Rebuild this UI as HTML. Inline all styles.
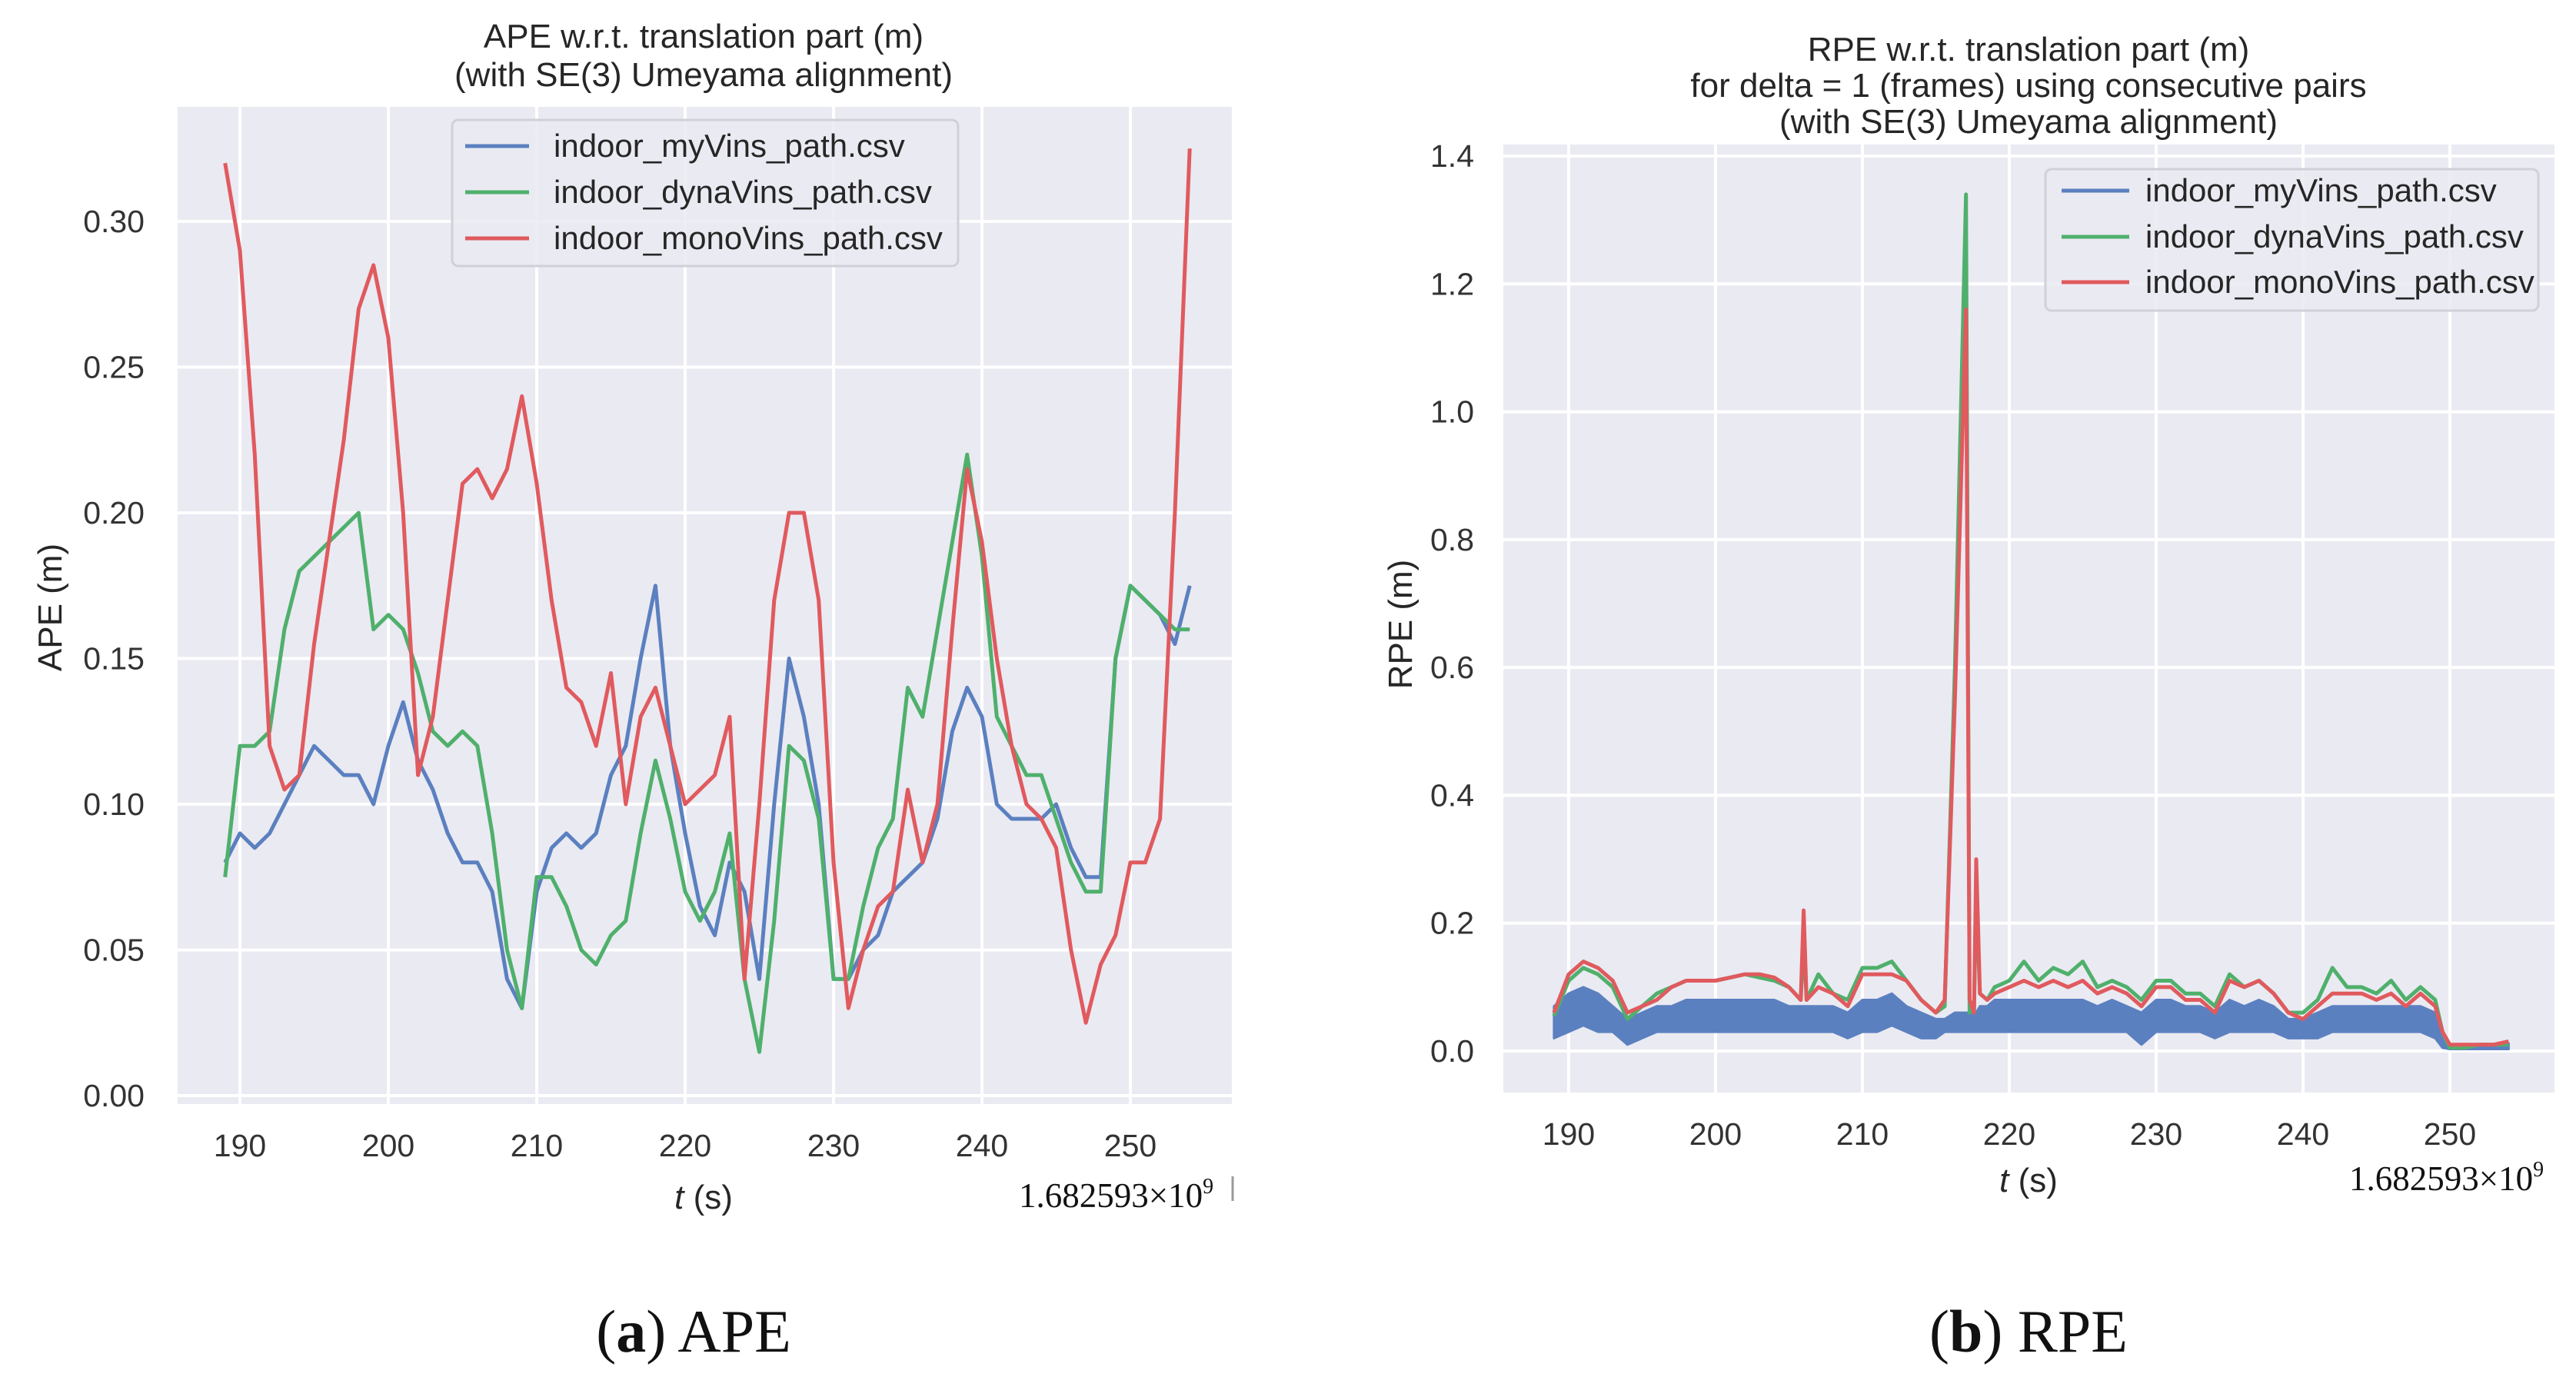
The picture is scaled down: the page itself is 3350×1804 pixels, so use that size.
<!DOCTYPE html>
<html><head><meta charset="utf-8">
<style>
html,body{margin:0;padding:0;background:#fff;}
svg{display:block;}
.tk{font-family:"Liberation Sans",sans-serif;font-size:41px;fill:#333;}
.tt{font-family:"Liberation Sans",sans-serif;font-size:44px;fill:#262626;}
.lg{font-family:"Liberation Sans",sans-serif;font-size:42px;fill:#262626;}
.sf{font-family:"Liberation Serif",serif;fill:#111;}
</style></head>
<body>
<svg id="fig" width="3350" height="1804" viewBox="0 0 3350 1804" xmlns="http://www.w3.org/2000/svg">
  <g id="ape"></g>
  <g id="rpe"></g>
  <text x="902" y="1758" text-anchor="middle" class="sf" font-size="78">(<tspan font-weight="bold">a</tspan>) APE</text>
  <text x="2638" y="1758" text-anchor="middle" class="sf" font-size="78">(<tspan font-weight="bold">b</tspan>) RPE</text>
</svg>
<script>
// ---------- APE data ----------
const apeT = [189,190,191,192,193,194,195,196,197,198,199,200,201,202,203,204,205,206,207,208,209,210,211,212,213,214,215,216,217,218,219,220,221,222,223,224,225,226,227,228,229,230,231,232,233,234,235,236,237,238,239,240,241,242,243,244,245,246,247,248,249,250,251,252,253,254];
const apeMy = [.08,.09,.085,.09,.10,.11,.12,.115,.11,.11,.10,.12,.135,.115,.105,.09,.08,.08,.07,.04,.03,.07,.085,.09,.085,.09,.11,.12,.15,.175,.12,.09,.065,.055,.08,.07,.04,.10,.15,.13,.10,.04,.04,.05,.055,.07,.075,.08,.095,.125,.14,.13,.10,.095,.095,.095,.10,.085,.075,.075,.15,.175,.17,.165,.155,.175];
const apeDyna = [.075,.12,.12,.125,.16,.18,.185,.19,.195,.20,.16,.165,.16,.145,.125,.12,.125,.12,.09,.05,.03,.075,.075,.065,.05,.045,.055,.06,.09,.115,.095,.07,.06,.07,.09,.04,.015,.06,.12,.115,.095,.04,.04,.065,.085,.095,.14,.13,.16,.19,.22,.185,.13,.12,.11,.11,.095,.08,.07,.07,.15,.175,.17,.165,.16,.16];
const apeMono = [.32,.29,.22,.12,.105,.11,.155,.19,.225,.27,.285,.26,.20,.11,.13,.17,.21,.215,.205,.215,.24,.21,.17,.14,.135,.12,.145,.10,.13,.14,.12,.10,.105,.11,.13,.04,.10,.17,.20,.20,.17,.08,.03,.05,.065,.07,.105,.08,.10,.16,.215,.19,.15,.12,.10,.095,.085,.05,.025,.045,.055,.08,.08,.095,.20,.325];
const apeXTicks = [190,200,210,220,230,240,250];
const apeYTicks = [0,0.05,0.10,0.15,0.20,0.25,0.30];
const apeYLabels = ["0.00","0.05","0.10","0.15","0.20","0.25","0.30"];

// ---------- RPE data ----------
const rpeT = [189,190,191,192,193,194,195,196,197,198,199,200,201,202,203,204,205,205.8,206,206.2,207,208,209,210,211,212,213,214,215,215.6,216.3,217.05,217.3,217.6,217.75,218,218.5,219,220,221,222,223,224,225,226,227,228,229,230,231,232,233,234,235,236,237,238,239,240,241,242,243,244,245,246,247,248,249,249.5,250,251,252,253,254];
const rpeMono = [.06,.12,.14,.13,.11,.06,.07,.08,.10,.11,.11,.11,.115,.12,.12,.115,.10,.08,.22,.08,.10,.09,.07,.12,.12,.12,.11,.08,.06,.08,.55,1.16,.08,.06,.30,.09,.08,.09,.10,.11,.10,.11,.10,.11,.09,.10,.09,.07,.10,.10,.08,.08,.06,.11,.10,.11,.09,.06,.05,.07,.09,.09,.09,.08,.09,.07,.09,.07,.03,.01,.01,.01,.01,.015];
const rpeDyna = [.055,.11,.13,.12,.10,.05,.07,.09,.10,.11,.11,.11,.115,.12,.115,.11,.10,.08,.17,.08,.12,.09,.08,.13,.13,.14,.11,.08,.06,.07,.60,1.34,.06,.07,.25,.09,.08,.10,.11,.14,.11,.13,.12,.14,.10,.11,.10,.08,.11,.11,.09,.09,.07,.12,.10,.11,.09,.06,.06,.08,.13,.10,.10,.09,.11,.08,.10,.08,.03,.005,.005,.01,.01,.01];
const rpeMyLow = [.02,.03,.04,.03,.03,.01,.02,.03,.03,.03,.03,.03,.03,.03,.03,.03,.03,.03,.03,.03,.03,.03,.02,.03,.03,.04,.03,.02,.02,.03,.03,.03,.03,.03,.03,.03,.03,.03,.03,.03,.03,.03,.03,.03,.03,.03,.03,.01,.03,.03,.03,.03,.02,.03,.03,.03,.03,.02,.02,.02,.03,.03,.03,.03,.03,.03,.03,.02,.005,.003,.003,.003,.003,.003];
const rpeMyHigh = [.07,.09,.10,.09,.07,.05,.06,.07,.07,.08,.08,.08,.08,.08,.08,.08,.07,.07,.07,.07,.07,.07,.06,.08,.08,.09,.07,.06,.05,.05,.06,.06,.06,.06,.06,.07,.07,.08,.08,.08,.08,.08,.08,.08,.07,.08,.07,.06,.08,.08,.07,.07,.06,.08,.07,.08,.07,.05,.05,.06,.07,.07,.07,.07,.07,.07,.07,.06,.03,.01,.01,.01,.01,.012];
const rpeXTicks = [190,200,210,220,230,240,250];
const rpeYTicks = [0,0.2,0.4,0.6,0.8,1.0,1.2,1.4];
const rpeYLabels = ["0.0","0.2","0.4","0.6","0.8","1.0","1.2","1.4"];

const NS = "http://www.w3.org/2000/svg";
const C_BLUE = "#5b80c0", C_GREEN = "#4fb06c", C_RED = "#e05a5e";
function mk(parent, tag, attrs, text){
  const e = document.createElementNS(NS, tag);
  for (const k in attrs) e.setAttribute(k, attrs[k]);
  if (text !== undefined) e.textContent = text;
  parent.appendChild(e);
  return e;
}
function lin(d0,d1,r0,r1){ return v => r0 + (v-d0)*(r1-r0)/(d1-d0); }
function pathD(xs, ys, sx, sy){
  return xs.map((t,i)=>(i?"L":"M")+sx(t).toFixed(1)+","+sy(ys[i]).toFixed(1)).join("");
}

function drawAxes(g, box, sx, sy, xt, yt, yl, yoff){
  const bg = mk(g,"rect",{x:box.x0,y:box.y0,width:box.x1-box.x0,height:box.y1-box.y0,fill:"#eaeaf2"});
  
  
  xt.forEach(v=>{
    const l = mk(g,"line",{x1:sx(v),x2:sx(v),y1:box.y0,y2:box.y1,stroke:"#fff","stroke-width":4});
    
    
    const t = mk(g,"text",{x:sx(v),y:box.y1+68,"text-anchor":"middle",class:"tk"},String(v));
    
    
  });
  yt.forEach((v,i)=>{
    const l = mk(g,"line",{x1:box.x0,x2:box.x1,y1:sy(v),y2:sy(v),stroke:"#fff","stroke-width":4});
    
    
    const t = mk(g,"text",{x:box.x0-yoff,y:sy(v)+14,"text-anchor":"end",class:"tk"},yl[i]);
    
    
  });
}
function drawLegend(g, x0,y0,x1,y1, rows, lx0,lx1,tx, names){
  const r = mk(g,"rect",{x:x0,y:y0,width:x1-x0,height:y1-y0,rx:8,fill:"#eaeaf2","fill-opacity":0.85,stroke:"#d0d0d8","stroke-width":3});
  
  
  const cols=[C_BLUE,C_GREEN,C_RED];
  rows.forEach((y,i)=>{
    const l = mk(g,"line",{x1:lx0,x2:lx1,y1:y,y2:y,stroke:cols[i],"stroke-width":5});
    
    
    const t = mk(g,"text",{x:tx,y:y+14,class:"lg"},names[i]);
    
    
  });
}
const NAMES=["indoor_myVins_path.csv","indoor_dynaVins_path.csv","indoor_monoVins_path.csv"];

// ---------- APE chart ----------
(function(){
  const g = document.getElementById("ape");
  const box={x0:231,x1:1602,y0:139,y1:1436};
  const sx = lin(190,250,312,1470), sy = lin(0,0.30,1425,288);
  drawAxes(g,box,sx,sy,apeXTicks,apeYTicks,apeYLabels,43);
  [[apeMy,C_BLUE,'series-myvins'],[apeDyna,C_GREEN,'series-dynavins'],[apeMono,C_RED,'series-monovins']].forEach(s=>{
    const p = mk(g,"path",{d:pathD(apeT,s[0],sx,sy),fill:"none",stroke:s[1],"stroke-width":5,"stroke-linejoin":"round"});
    
    
  });
  drawLegend(g,588,156,1246,346,[190,250,310],605,688,720,NAMES);
  const t1 = mk(g,"text",{x:915,y:62,"text-anchor":"middle",class:"tt"},"APE w.r.t. translation part (m)");
  
  
  const t2 = mk(g,"text",{x:915,y:112,"text-anchor":"middle",class:"tt"},"(with SE(3) Umeyama alignment)");
  
  
  const yl = mk(g,"text",{x:80,y:790,"text-anchor":"middle",class:"tt",transform:"rotate(-90 80 790)"},"APE (m)");
  
  
  const xl = mk(g,"text",{x:915,y:1572,"text-anchor":"middle",class:"tt"});
  xl.innerHTML='<tspan font-style="italic">t</tspan> (s)';
  
  
  const of = mk(g,"text",{x:1325,y:1570,class:"sf","font-size":45});
  of.innerHTML='1.682593×10<tspan dy="-18" font-size="28">9</tspan>';
  
  
  mk(g,"line",{x1:1603,x2:1603,y1:1530,y2:1562,stroke:"#999","stroke-width":3});
})();

// ---------- RPE chart ----------
(function(){
  const g = document.getElementById("rpe");
  const box={x0:1955,x1:3322,y0:188,y1:1421};
  const sx = lin(190,250,2040,3186), sy = lin(0,1.4,1367,203);
  drawAxes(g,box,sx,sy,rpeXTicks,rpeYTicks,rpeYLabels,38);
  let d = pathD(rpeT,rpeMyHigh,sx,sy);
  for(let i=rpeT.length-1;i>=0;i--) d+="L"+sx(rpeT[i]).toFixed(1)+","+sy(rpeMyLow[i]).toFixed(1);
  d+="Z";
  const band = mk(g,"path",{d:d,fill:C_BLUE,stroke:C_BLUE,"stroke-width":3,"stroke-linejoin":"round"});
  
  
  [[rpeDyna,C_GREEN,'series-dynavins'],[rpeMono,C_RED,'series-monovins']].forEach(s=>{
    const p = mk(g,"path",{d:pathD(rpeT,s[0],sx,sy),fill:"none",stroke:s[1],"stroke-width":5,"stroke-linejoin":"round"});
    
    
  });
  drawLegend(g,2660,220,3301,404,[248,308,367],2681,2769,2790,NAMES);
  const lines=["RPE w.r.t. translation part (m)","for delta = 1 (frames) using consecutive pairs","(with SE(3) Umeyama alignment)"];
  [79,126,173].forEach((y,i)=>{
    const t = mk(g,"text",{x:2638,y:y,"text-anchor":"middle",class:"tt"},lines[i]);
    
    
  });
  const yl = mk(g,"text",{x:1836,y:812,"text-anchor":"middle",class:"tt",transform:"rotate(-90 1836 812)"},"RPE (m)");
  
  
  const xl = mk(g,"text",{x:2638,y:1550,"text-anchor":"middle",class:"tt"});
  xl.innerHTML='<tspan font-style="italic">t</tspan> (s)';
  
  
  const of = mk(g,"text",{x:3055,y:1548,class:"sf","font-size":45});
  of.innerHTML='1.682593×10<tspan dy="-18" font-size="28">9</tspan>';
  
  
})();
</script>
</body></html>
